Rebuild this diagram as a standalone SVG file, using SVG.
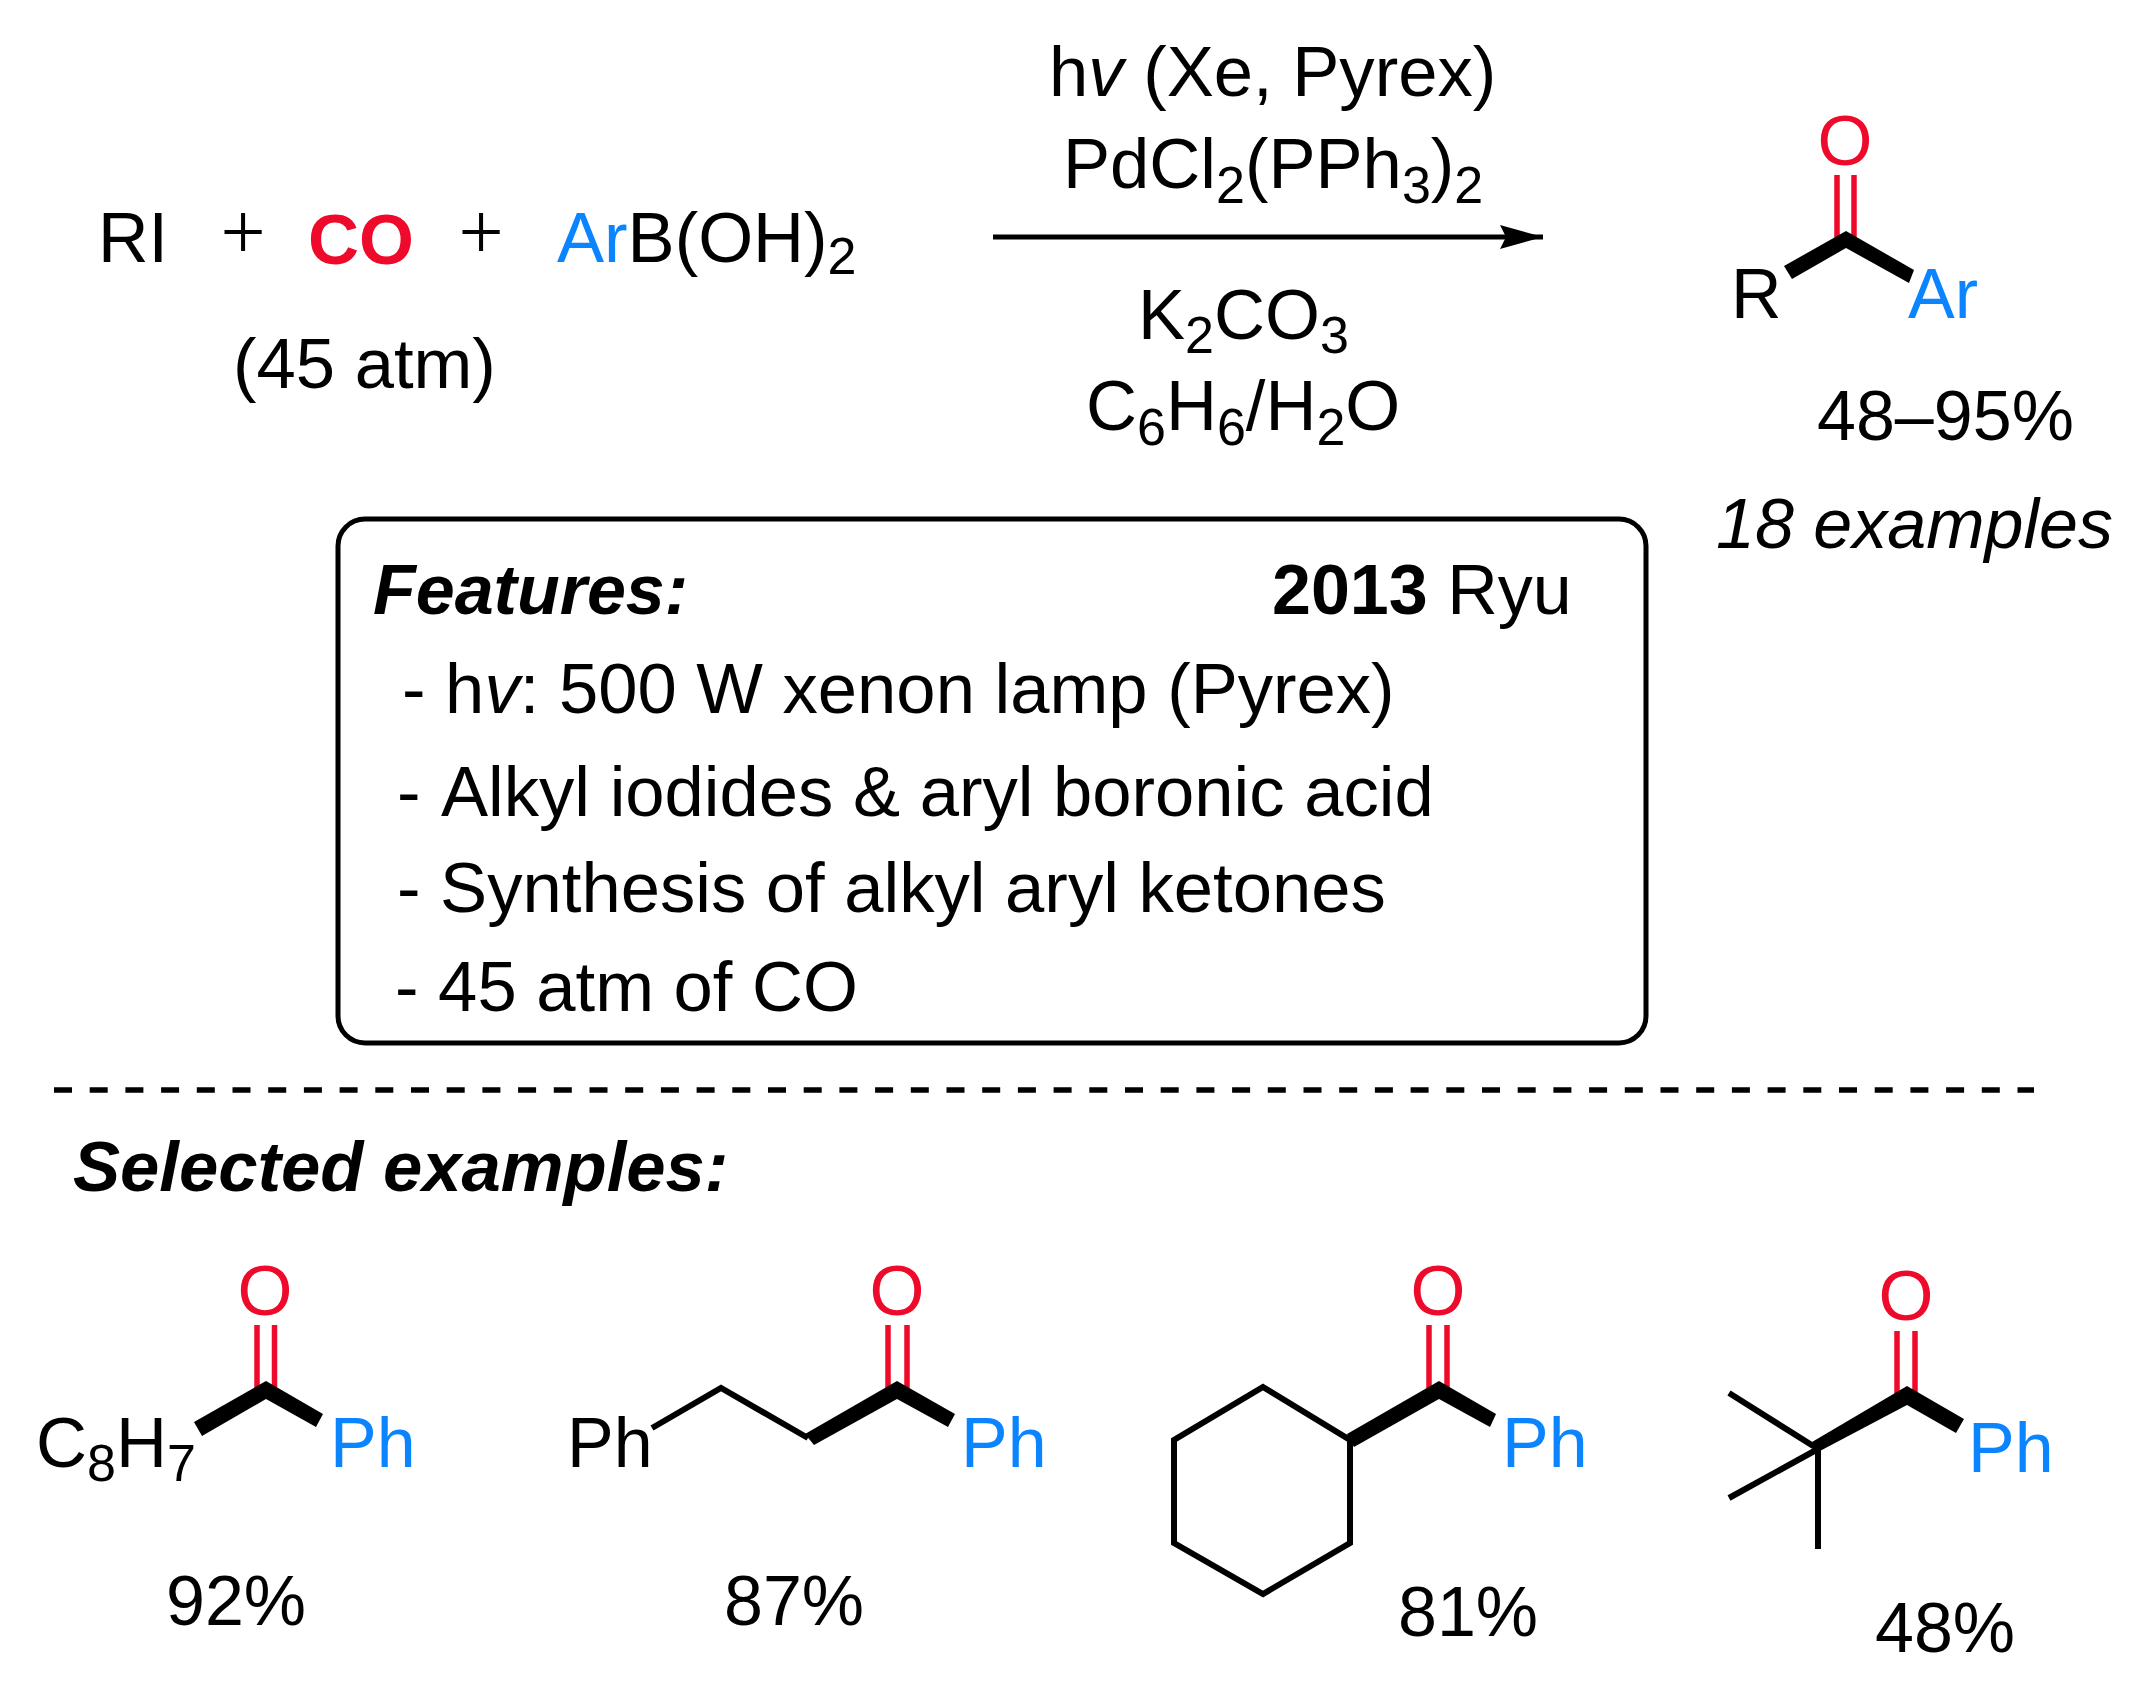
<svg xmlns="http://www.w3.org/2000/svg" width="2129" height="1687" viewBox="0 0 2129 1687">
<style>
text{font-family:"Liberation Sans",Arial,sans-serif;font-size:70.6px;fill:#000}
.sub{font-size:52px}
.s70{font-size:70px}
.plus{font-family:"Liberation Serif","Times New Roman",serif;font-size:80px}
.red{fill:#ee0a2a}.blue{fill:#0a84ff}
.b{font-weight:700}.i{font-style:italic}
.bond{stroke:#000;stroke-width:6;fill:none}
.dbl{stroke:#ee0a2a;stroke-width:5.500;fill:none}
.wedge{fill:#000}
</style>
<defs><marker id="ah" markerUnits="userSpaceOnUse" markerWidth="46" markerHeight="26" refX="43" refY="12" orient="auto"><path d="M0,0L43,12L0,24L6,12Z" fill="#000"/></marker></defs>
<rect width="2129" height="1687" fill="#fff"/>
<g id="connectors">
<line x1="993" y1="237" x2="1543" y2="237" stroke="#000" stroke-width="5" marker-end="url(#ah)"/>
<line x1="54" y1="1090" x2="2034" y2="1090" stroke="#000" stroke-width="5.500" stroke-dasharray="18 17.700"/>
</g>
<g id="reactants">
<text x="98" y="262" class="s70">RI</text>
<text x="243" y="259" class="plus" text-anchor="middle">+</text>
<text x="308" y="264" class="red b">CO</text>
<text x="481" y="259" class="plus" text-anchor="middle">+</text>
<text x="557" y="262"><tspan class="blue">Ar</tspan>B(OH)<tspan class="sub" dy="12">2</tspan></text>
<text x="233" y="388">(45 atm)</text>
</g>
<g id="conditions">
<text x="1049" y="96">h<tspan class="i">v</tspan> (Xe, Pyrex)</text>
<text x="1063" y="188">PdCl<tspan class="sub" dy="15">2</tspan><tspan dy="-15">(PPh</tspan><tspan class="sub" dy="15">3</tspan><tspan dy="-15">)</tspan><tspan class="sub" dy="15">2</tspan></text>
<text x="1138" y="339">K<tspan class="sub" dy="14">2</tspan><tspan dy="-14">CO</tspan><tspan class="sub" dy="14">3</tspan></text>
<text x="1086" y="430">C<tspan class="sub" dy="15">6</tspan><tspan dy="-15">H</tspan><tspan class="sub" dy="15">6</tspan><tspan dy="-15">/H</tspan><tspan class="sub" dy="15">2</tspan><tspan dy="-15">O</tspan></text>
</g>
<g id="product">
<line class="dbl" x1="1837" y1="175" x2="1837" y2="247"/><line class="dbl" x1="1854" y1="175" x2="1854" y2="237"/>
<polygon class="wedge" points="1846,231 1784,266 1792,279 1846,248"/>
<polygon class="wedge" points="1846,231 1914,270 1909,283 1846,248"/>
<text x="1845" y="165" class="red" text-anchor="middle">O</text>
<text x="1731" y="318" class="s70">R</text>
<text x="1908" y="318" class="blue s70">Ar</text>
<text x="1817" y="440" class="s70">48–95%</text>
<text x="1716" y="548" class="i s70">18 examples</text>
</g>
<g id="features">
<rect x="338" y="519" width="1308" height="524" rx="27" fill="none" stroke="#000" stroke-width="5"/>
<text x="373" y="614" class="b i s70">Features:</text>
<text x="1272" y="614" class="s70"><tspan class="b">2013</tspan> Ryu</text>
<text x="402" y="713">- h<tspan class="i">v</tspan>: 500 W xenon lamp (Pyrex)</text>
<text x="397" y="816">-<tspan x="441">Alkyl iodides &amp; aryl boronic acid</tspan></text>
<text x="397" y="912">- Synthesis of alkyl aryl ketones</text>
<text x="395" y="1011">- 45 atm of CO</text>
</g>
<text id="selected" x="73" y="1191" class="b i">Selected examples:</text>
<g id="mol1">
<line class="dbl" x1="257" y1="1325" x2="257" y2="1397"/><line class="dbl" x1="274.500" y1="1325" x2="274.500" y2="1397"/>
<polygon class="wedge" points="266,1381 194,1422 202,1436 266,1399"/>
<polygon class="wedge" points="266,1381 323,1414 316,1427 266,1399"/>
<text x="265" y="1315" class="red" text-anchor="middle">O</text>
<text x="36" y="1467">C<tspan class="sub" dy="14">8</tspan><tspan dy="-14">H</tspan><tspan class="sub" dy="14">7</tspan></text>
<text x="330" y="1467" class="blue s70">Ph</text>
<text x="166" y="1625" class="s70">92%</text>
</g>
<g id="mol2">
<polyline class="bond" points="652,1428 721,1388 808,1438"/>
<line class="dbl" x1="888" y1="1325" x2="888" y2="1397"/><line class="dbl" x1="907" y1="1325" x2="907" y2="1397"/>
<polygon class="wedge" points="897,1381 805,1434 814,1445 897,1399"/>
<polygon class="wedge" points="897,1381 955,1414 948,1427 897,1399"/>
<text x="897" y="1315" class="red" text-anchor="middle">O</text>
<text x="567" y="1467" class="s70">Ph</text>
<text x="961" y="1467" class="blue s70">Ph</text>
<text x="724" y="1625" class="s70">87%</text>
</g>
<g id="mol3">
<polygon class="bond" points="1263,1387 1350,1440 1350,1543 1263,1594 1174,1543 1174,1440"/>
<line class="dbl" x1="1429" y1="1325" x2="1429" y2="1397"/><line class="dbl" x1="1447" y1="1325" x2="1447" y2="1397"/>
<polygon class="wedge" points="1439,1381 1347,1434 1354,1447 1439,1399"/>
<polygon class="wedge" points="1439,1381 1496,1414 1490,1427 1439,1399"/>
<text x="1438" y="1315" class="red" text-anchor="middle">O</text>
<text x="1502" y="1467" class="blue s70">Ph</text>
<text x="1398" y="1636" class="s70">81%</text>
</g>
<g id="mol4">
<path class="bond" d="M1729,1393L1818,1449M1729,1498L1818,1449M1818,1449V1549"/>
<line class="dbl" x1="1897" y1="1331" x2="1897" y2="1402"/><line class="dbl" x1="1915" y1="1331" x2="1915" y2="1402"/>
<polygon class="wedge" points="1907,1386 1812,1442 1818,1452 1907,1405"/>
<polygon class="wedge" points="1907,1386 1964,1419 1956,1433 1907,1405"/>
<text x="1906" y="1320" class="red" text-anchor="middle">O</text>
<text x="1968" y="1472" class="blue s70">Ph</text>
<text x="1875" y="1652" class="s70">48%</text>
</g>
</svg>
